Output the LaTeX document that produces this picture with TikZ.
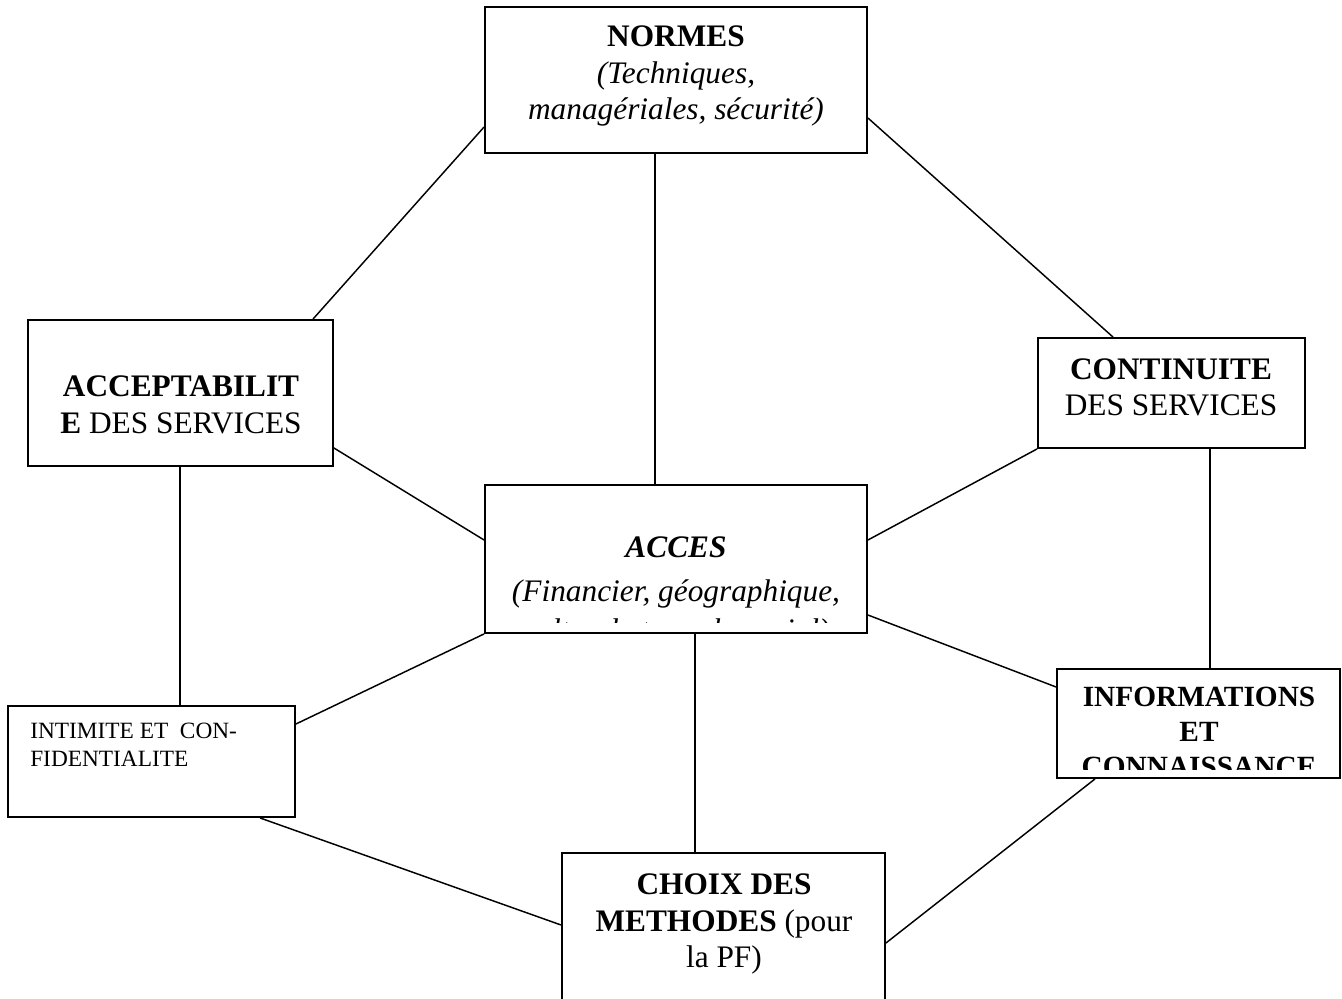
\documentclass[tikz,border=0pt]{standalone}
\usepackage{fontspec}
\setmainfont{Liberation Serif}
\begin{document}
\begin{tikzpicture}[x=0.75pt,y=-0.75pt,
  boxline/.style={draw,line width=1.4pt,inner sep=0pt,rectangle},
  link/.style={line width=1.1pt},
  bigtxt/.style={font=\fontsize{23.5pt}{27.4pt}\selectfont,inner sep=0pt,align=center,anchor=north},
]
\useasboundingbox (0,0) rectangle (1342,999);
\clip (0,0) rectangle (1342,999);
% boxes
\node[boxline,minimum width=286.5pt,minimum height=109.5pt] (normes) at (676,80) {};
\node[boxline,minimum width=228.75pt,minimum height=109.5pt] (accept) at (180.5,393) {};
\node[boxline,minimum width=200.25pt,minimum height=82.5pt] (contin) at (1171.5,393) {};
\node[boxline,minimum width=286.5pt,minimum height=111pt] (acces) at (676,559) {};
\node[boxline,minimum width=215.25pt,minimum height=83.25pt] (intim) at (151.5,761.5) {};
\node[boxline,minimum width=212.25pt,minimum height=81.75pt] (infos) at (1198.5,723.5) {};
\node[boxline,minimum width=242.25pt,minimum height=125.25pt] (choix) at (723.5,936.5) {};
% texts
\node[bigtxt] (tnormes) at (676,25.5) {\textbf{NORMES}\\\textit{(Techniques,}\\\textit{managériales, sécurité)}};
\node[bigtxt,font=\fontsize{23.5pt}{27.75pt}\selectfont] (taccept) at (181,375.5) {\textbf{ACCEPTABILIT}\\\textbf{E} DES SERVICES};
\node[bigtxt,font=\fontsize{23.5pt}{27pt}\selectfont] (tcontin) at (1171,358.5) {\textbf{CONTINUITE}\\DES SERVICES};
\begin{scope}
  \clip (485,485) rectangle (867,622);
  \node[bigtxt,font=\fontsize{23.5pt}{33pt}\selectfont] (tacces) at (676,536.5) {\textbf{\textit{ACCES}}\\\textit{(Financier, géographique,}\\[-4pt]\textit{culturel et psychosocial)}};
\end{scope}
\begin{scope}
  \clip (1057,669) rectangle (1340,769);
  \node[bigtxt,font=\fontsize{22pt}{26.25pt}\selectfont] (tinfos) at (1199,687) {\textbf{INFORMATIONS}\\\textbf{ET}\\\textbf{CONNAISSANCE}};
\end{scope}
\node[font=\fontsize{17.5pt}{21pt}\selectfont,inner sep=0pt,align=left,anchor=north west] (tintim) at (30,722.5) {INTIMITE ET\ \ CON-\\FIDENTIALITE};
\node[bigtxt] (tchoix) at (724,873.5) {\textbf{CHOIX DES}\\\textbf{METHODES} (pour\\la PF)};
% connectors
\draw[link] (normes.west |- 0,127) -- (313,0 |- accept.north);
\draw[link] (655,0 |- normes.south) -- (655,0 |- acces.north);
\draw[link] (normes.east |- 0,118) -- (1113,0 |- contin.north);
\draw[link] (accept.east |- 0,448) -- (acces.west |- 0,540);
\draw[link] (180,0 |- accept.south) -- (180,0 |- intim.north);
\draw[link] (contin.south west) -- (acces.east |- 0,540);
\draw[link] (1210,0 |- contin.south) -- (1210,0 |- infos.north);
\draw[link] (acces.south west) -- (intim.east |- 0,724);
\draw[link] (695,0 |- acces.south) -- (695,0 |- choix.north);
\draw[link] (acces.east |- 0,615) -- (infos.west |- 0,687);
\draw[link] (260,0 |- intim.south) -- (choix.west |- 0,925);
\draw[link] (1095,0 |- infos.south) -- (choix.east |- 0,943);
\end{tikzpicture}
\end{document}
